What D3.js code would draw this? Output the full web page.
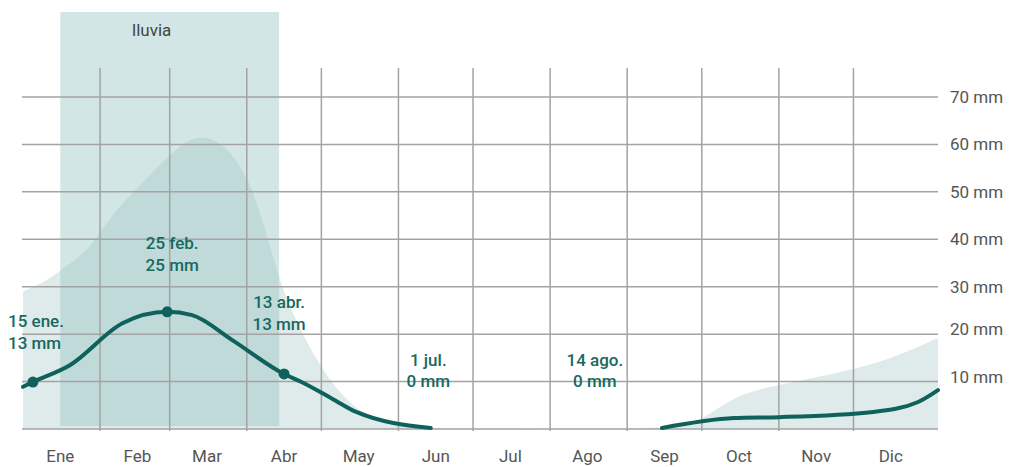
<!DOCTYPE html>
<html>
<head>
<meta charset="utf-8">
<script src="https://cdn.jsdelivr.net/npm/d3@7"></script>
<style>
  body { margin: 0; background: #fff; }
  svg { display: block; font-family: Roboto, "Noto Sans", sans-serif; }
</style>
</head>
<body>
<div id="chart"></div>
<script>
// month names on the x axis
const months = ["Ene", "Feb", "Mar", "Abr", "May", "Jun", "Jul", "Ago", "Sep", "Oct", "Nov", "Dic"];
const yTicks = [10, 20, 30, 40, 50, 60, 70];

// average rainfall (mm) - null where there is no line
const lineDates = ["2023-01-01", "2023-01-05", "2023-01-20", "2023-02-10", "2023-02-28", "2023-03-10",
  "2023-03-26", "2023-04-16", "2023-04-23", "2023-05-05", "2023-05-15", "2023-06-14",
  "2023-07-20", "2023-09-15", "2023-10-14", "2023-11-01", "2023-12-09", "2023-12-27", "2024-01-04"];
const lineValues = [8.9, 9.9, 13.5, 22.3, 24.7, 24.0, 18.8, 11.6, 9.9, 6.5, 3.6, 0.2,
  null, 0.2, 2.3, 2.5, 3.6, 5.7, 8.2];

// background band (upper percentile of rainfall)
const bandDates = ["2023-01-01", "2023-01-10", "2023-01-16", "2023-01-28", "2023-02-05", "2023-02-21",
  "2023-03-05", "2023-03-15", "2023-03-25", "2023-04-02", "2023-04-08", "2023-04-14", "2023-04-22",
  "2023-05-05", "2023-05-17", "2023-06-02", "2023-06-14", "2023-09-14", "2023-09-29", "2023-10-14",
  "2023-11-01", "2023-12-01", "2023-12-20", "2024-01-04"];
const bandValues = [29, 31, 33.5, 37.7, 45, 53.5, 60, 62.4, 59, 52.5, 43, 31.4, 21,
  9.3, 3, 0.4, 0, 0, 0.8, 7.2, 9.3, 12.4, 15.6, 19.2];

// rainy season
const rainSeason = ["2023-01-16", "2023-04-14"];

// highlighted points
const markerDates = ["2023-01-05", "2023-02-28", "2023-04-16"];
const markerValues = [9.9, 24.7, 11.6];

// annotations: date, mm (for placement), two lines of text
const noteDates = ["2023-01-01", "2023-03-02", "2023-04-14", "2023-06-13", "2023-08-19"];
const noteValues = [21.5, 37.9, 25.5, 13.3, 13.3];
const noteTop = ["15 ene.", "25 feb.", "13 abr.", "1 jul.", "14 ago."];
const noteBottom = ["13 mm", "25 mm", "13 mm", "0 mm", "0 mm"];

const parse = d3.timeParse("%Y-%m-%d");
const width = 1014, height = 467;

const svg = d3.select("#chart")
  .append("svg")
  .attr("width", width)
  .attr("height", height);

const x = d3.scaleTime()
  .domain([parse("2023-01-01"), parse("2024-01-04")])
  .range([23, 938]);

const y = d3.scaleLinear()
  .domain([0, 70])
  .range([429, 97]);

const teal = "#0f625b";
const grid = "#a3a3a3";

// rainy season box
svg.append("rect")
  .attr("x", x(parse(rainSeason[0])))
  .attr("y", 12)
  .attr("width", x(parse(rainSeason[1])) - x(parse(rainSeason[0])))
  .attr("height", 414)
  .attr("fill", "#d2e6e6");

svg.append("text")
  .attr("x", (x(parse(rainSeason[0])) + x(parse(rainSeason[1]))) / 2 - 18)
  .attr("y", 36)
  .attr("text-anchor", "middle")
  .attr("fill", "#444")
  .attr("font-size", "17px")
  .text("lluvia");

// background band
const band = bandDates.map((d, i) => ({ date: parse(d), value: bandValues[i] }));
svg.append("path")
  .datum(band)
  .attr("fill", "#9cbdbd")
  .attr("fill-opacity", 0.32)
  .attr("d", d3.area()
    .x(d => x(d.date))
    .y0(y(0))
    .y1(d => y(d.value))
    .curve(d3.curveBasis));

// horizontal grid
svg.append("g")
  .selectAll("line")
  .data([0].concat(yTicks))
  .join("line")
  .attr("x1", 22)
  .attr("x2", 938)
  .attr("y1", d => y(d))
  .attr("y2", d => y(d))
  .attr("stroke", grid)
  .attr("stroke-width", 1.5);

// vertical grid at month starts (Feb..Dec)
const monthStarts = d3.range(1, 12).map(m => new Date(2023, m, 1));
svg.append("g")
  .selectAll("line")
  .data(monthStarts)
  .join("line")
  .attr("x1", d => x(d))
  .attr("x2", d => x(d))
  .attr("y1", 68)
  .attr("y2", 431)
  .attr("stroke", grid)
  .attr("stroke-width", 1.5);

// y labels
svg.append("g")
  .selectAll("text")
  .data(yTicks)
  .join("text")
  .attr("x", 950)
  .attr("y", d => y(d) - (d <= 20 ? 5 : 0))
  .attr("dy", "0.35em")
  .attr("fill", "#555")
  .attr("font-size", "17px")
  .text(d => d + " mm");

// month labels
svg.append("g")
  .selectAll("text")
  .data(months)
  .join("text")
  .attr("x", (d, i) => x(new Date(2023, i, 16)))
  .attr("y", 462)
  .attr("text-anchor", "middle")
  .attr("fill", "#555")
  .attr("font-size", "17px")
  .text(d => d);

// rainfall line
const lineData = lineDates.map((d, i) => ({ date: parse(d), value: lineValues[i] }));
svg.append("path")
  .datum(lineData)
  .attr("fill", "none")
  .attr("stroke", teal)
  .attr("stroke-width", 4)
  .attr("stroke-linecap", "round")
  .attr("d", d3.line()
    .defined(d => d.value !== null)
    .x(d => x(d.date))
    .y(d => y(d.value))
    .curve(d3.curveMonotoneX));

svg.append("g")
  .selectAll("circle")
  .data(markerDates)
  .join("circle")
  .attr("cx", d => x(parse(d)))
  .attr("cy", (d, i) => y(markerValues[i]))
  .attr("r", 5.5)
  .attr("fill", teal);

// annotations
const notes = svg.append("g")
  .selectAll("text")
  .data(noteTop)
  .join("text")
  .attr("x", (d, i) => x(parse(noteDates[i])))
  .attr("y", (d, i) => y(noteValues[i]))
  .attr("text-anchor", (d, i) => i === 0 ? "start" : "middle")
  .attr("fill", "#17695f")
  .attr("font-size", "17px")
  .attr("font-weight", 500);

notes.append("tspan").text(d => d);
notes.append("tspan")
  .attr("x", (d, i) => x(parse(noteDates[i])))
  .attr("dy", 21.5)
  .text((d, i) => noteBottom[i]);

// first note starts at the left edge
notes.filter((d, i) => i === 0).attr("x", 8).selectAll("tspan").attr("x", 8);
</script>
</body>
</html>
